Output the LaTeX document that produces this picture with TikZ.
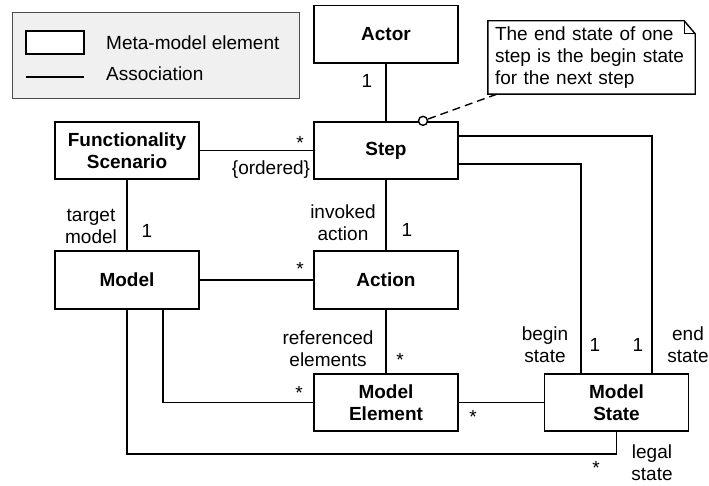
\documentclass[tikz,border=0pt]{standalone}
\usepackage{fontspec}
\setmainfont{Liberation Sans}
\begin{document}
\begin{tikzpicture}[x=1pt, y=-1pt,
  every node/.style={font=\fontsize{19}{22}\selectfont},
  elem/.style={draw, line width=1.8pt, minimum width=144pt, minimum height=57.5pt,
    inner sep=0pt, align=center, font=\fontsize{19}{22}\selectfont\bfseries},
  assoc/.style={line width=1.8pt},
  lbl/.style={inner sep=0pt, align=center},
  notebox/.style={inner xsep=7pt, inner ysep=0pt, text width=193pt, minimum height=73pt, align=left},
  notefold/.style={line width=1.4pt},
  legendbox/.style={draw=gray!60!black, fill=gray!12, line width=1pt},
]
\useasboundingbox (0,0) rectangle (709,486);

% Legend
\draw[legendbox] (12,13) rectangle (299,99);
\draw[line width=1.8pt, fill=white] (26,31) rectangle (84,54);
\draw[assoc] (26,77) -- (84,77);
\node[anchor=base west, inner sep=0pt] (legElem) at (106,50) {Meta-model element};
\node[anchor=base west, inner sep=0pt] (legAssoc) at (106,81) {Association};

% Meta-model elements
\node[elem] (actor) at (386,34.3) {Actor};
\node[elem] (step) at (386,150.5) {Step};
\node[elem] (scenario) at (127,150.5) {Functionality\\Scenario};
\node[elem] (model) at (127,280) {Model};
\node[elem] (action) at (386,280) {Action};
\node[elem] (element) at (386,402.5) {Model\\Element};
\node[elem] (state) at (616.5,402.5) {Model\\State};

% Note on Step
\node[notebox] (note) at (591.5,57.5) {The end state of one\\step is the begin state\\for the next step};
\draw[notefold] (note.south west) -- (note.north west) -- ([xshift=-11pt]note.north east)
  -- ([yshift=-13pt]note.north east) -- (note.south east) -- cycle;
\draw[notefold] ([xshift=-11pt]note.north east) |- ([yshift=-13pt]note.north east);
\coordinate (pin) at ([xshift=37pt]step.north);
\draw[notefold, dash pattern=on 8pt off 5pt] ([xshift=9pt]note.south west) -- (pin);
\draw[notefold, fill=white] (pin) circle (4.5pt);

% Associations
\draw[assoc] (actor) -- (step);
\draw[assoc] (scenario) -- (step);
\draw[assoc] (scenario) -- (model);
\draw[assoc] (model) -- (action);
\draw[assoc] (step) -- (action);
\draw[assoc] (action) -- (element);
\draw[assoc] (element) -- (state);
\draw[assoc] ([xshift=36pt]model.south) |- (element.west);
\draw[assoc] (model.south) |- ([yshift=-22pt]state.south) -- (state.south);
\draw[assoc] ([yshift=14.5pt]step.east) -| ([xshift=35.5pt]state.north);
\draw[assoc] ([yshift=-13.5pt]step.east) -| ([xshift=-35.5pt]state.north);

% Multiplicities and roles
\node[lbl, anchor=base] (mActor) at (367,88) {1};
\node[lbl, anchor=base] (mStepScen) at (300,150) {*};
\node[lbl, anchor=base] (ordered) at (271,175) {\{ordered\}};
\node[lbl] (target) at (91,226.5) {target\\model};
\node[lbl, anchor=base] (mTarget) at (147,238) {1};
\node[lbl, anchor=base] (mActModel) at (300,276) {*};
\node[lbl] (invoked) at (343,222.5) {invoked\\action};
\node[lbl, anchor=base] (mInvoked) at (407,237) {1};
\node[lbl] (referenced) at (328,348.5) {referenced\\elements};
\node[lbl, anchor=base] (mRef) at (400,366) {*};
\node[lbl, anchor=base] (mElemModel) at (299,399) {*};
\node[lbl, anchor=base] (mElemState) at (473,423) {*};
\node[lbl] (begin) at (545,344.5) {begin\\state};
\node[lbl, anchor=base] (mBegin) at (595,351) {1};
\node[lbl, anchor=base] (mEnd) at (638,351) {1};
\node[lbl] (endst) at (688,344.5) {end\\state};
\node[lbl, anchor=base] (mLegal) at (596,474) {*};
\node[lbl] (legal) at (652,463) {legal\\state};

\end{tikzpicture}
\end{document}
